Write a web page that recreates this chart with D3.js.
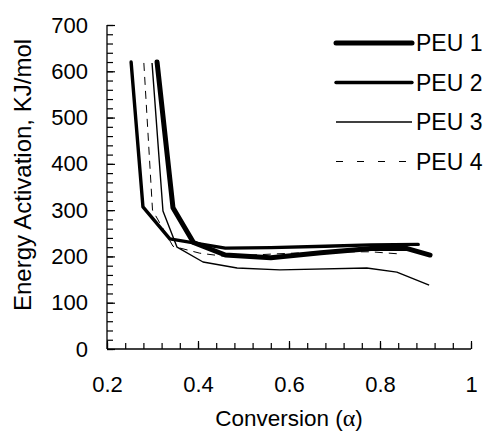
<!DOCTYPE html>
<html>
<head>
<meta charset="utf-8">
<script src="https://cdn.jsdelivr.net/npm/d3@7"></script>
<style>
  body { margin: 0; background: #fff; }
  svg { display: block; font-family: "Liberation Sans", Arial, sans-serif; }
</style>
</head>
<body>
<svg id="chart" width="489" height="436"></svg>
<script>
// conversion values and activation energies
const peu1_x = [0.31, 0.345, 0.39, 0.46, 0.56, 0.67, 0.78, 0.86, 0.91];
const peu1_y = [620, 305, 230, 203, 197, 208, 217, 217, 203];
const peu2_x = [0.253, 0.279, 0.338, 0.46, 0.56, 0.68, 0.78, 0.884];
const peu2_y = [620, 307, 238, 218, 219, 222, 225, 226];
const peu3_x = [0.299, 0.323, 0.354, 0.411, 0.486, 0.58, 0.771, 0.837, 0.908];
const peu3_y = [618, 298, 220, 188, 175, 171, 175, 166, 138];
const peu4_x = [0.281, 0.30, 0.345, 0.404, 0.46, 0.56, 0.68, 0.78, 0.848];
const peu4_y = [618, 300, 222, 207, 200, 205, 210, 210, 205];

const series_names = ["PEU 1", "PEU 2", "PEU 3", "PEU 4"];
const x_ticks = [0.2, 0.4, 0.6, 0.8, 1];
const y_ticks = [0, 100, 200, 300, 400, 500, 600, 700];

const margin = {top: 25, left: 107, right: 18, bottom: 87};
const width = 489 - margin.left - margin.right,
    height = 436 - margin.top - margin.bottom;

const svg = d3.select("#chart")
    .append("g")
    .attr("transform", "translate(" + margin.left + "," + margin.top + ")");

const x = d3.scaleLinear().domain([0.2, 1]).range([0, width]);
const y = d3.scaleLinear().domain([0, 700]).range([height, 0]);

// minor ticks
svg.append("g")
    .attr("class", "x-minor")
    .attr("transform", "translate(0," + height + ")")
    .call(d3.axisTop(x).tickValues(d3.range(0.2, 1.001, 0.04)).tickSize(6).tickFormat("").tickSizeOuter(0))
    .call(g => g.select(".domain").remove());

svg.append("g")
    .attr("class", "y-minor")
    .call(d3.axisRight(y).tickValues(d3.range(0, 701, 20)).tickSize(6).tickFormat("").tickSizeOuter(0))
    .call(g => g.select(".domain").remove());

// major axes
svg.append("g")
    .attr("class", "x-axis")
    .attr("transform", "translate(0," + height + ")")
    .call(d3.axisTop(x).tickValues(x_ticks).tickSize(8).tickSizeOuter(0)
        .tickFormat(d => d === 1 ? "1" : d3.format(".1f")(d)))
    .call(g => g.selectAll("text").attr("y", 43).attr("dy", null))
    .call(g => g.selectAll(".domain").attr("d", "M0,0H" + width));

svg.append("g")
    .attr("class", "y-axis")
    .call(d3.axisRight(y).tickValues(y_ticks).tickSize(8).tickSizeOuter(0))
    .call(g => g.selectAll("text").attr("x", -19).attr("text-anchor", "end"))
    .call(g => g.selectAll(".domain").attr("d", "M0," + height + "V0"));

svg.selectAll(".tick text")
    .attr("font-size", 22)
    .attr("font-family", "Liberation Sans, Arial, sans-serif")
    .attr("fill", "#000");
svg.selectAll(".tick line").attr("stroke", "#000").attr("stroke-width", 1.2);
svg.selectAll(".domain").attr("stroke", "#000").attr("stroke-width", 1.3);

// lines
const series = [
    {name: series_names[0], xs: peu1_x, ys: peu1_y, w: 5, dash: null},
    {name: series_names[1], xs: peu2_x, ys: peu2_y, w: 3.4, dash: null},
    {name: series_names[2], xs: peu3_x, ys: peu3_y, w: 1.4, dash: null},
    {name: series_names[3], xs: peu4_x, ys: peu4_y, w: 1, dash: "8,6"}
];

const line = d3.line()
    .x(d => x(d[0]))
    .y(d => y(d[1]));

svg.selectAll("path.series")
    .data(series)
    .enter()
    .append("path")
    .attr("class", "series")
    .attr("fill", "none")
    .attr("stroke", "#000")
    .attr("stroke-width", d => d.w)
    .attr("stroke-dasharray", d => d.dash)
    .attr("stroke-linejoin", "round")
    .attr("stroke-linecap", d => d.w > 3 ? "round" : "butt")
    .attr("d", d => line(d.xs.map((v, i) => [v, d.ys[i]])));

// legend
const legend = d3.select("#chart").append("g")
    .attr("class", "legend")
    .attr("transform", "translate(335,43)");

const item = legend.selectAll("g")
    .data(series)
    .enter()
    .append("g")
    .attr("transform", (d, i) => "translate(0," + i * 39.5 + ")");

item.append("line")
    .attr("x1", 1).attr("x2", 77)
    .attr("stroke", "#000")
    .attr("stroke-width", d => d.w)
    .attr("stroke-dasharray", d => d.dash ? "7,14" : null)
    .attr("stroke-linecap", d => d.w > 3 ? "round" : "butt");

item.append("text")
    .attr("x", 81)
    .attr("y", 8)
    .attr("font-size", 23)
    .text(d => d.name);

// axis titles
const xt = d3.select("#chart").append("text")
    .attr("x", margin.left + width / 2)
    .attr("y", 426)
    .attr("text-anchor", "middle")
    .attr("font-size", 22.5);
xt.append("tspan").text("Conversion (");
xt.append("tspan").attr("font-family", "Liberation Serif, serif").attr("font-size", 24).text("α");
xt.append("tspan").text(")");

d3.select("#chart").append("text")
    .attr("transform", "translate(31," + (margin.top + height / 2 - 12) + ") rotate(-90)")
    .attr("text-anchor", "middle")
    .attr("font-size", 24)
    .text("Energy Activation, KJ/mol");
</script>
</body>
</html>
